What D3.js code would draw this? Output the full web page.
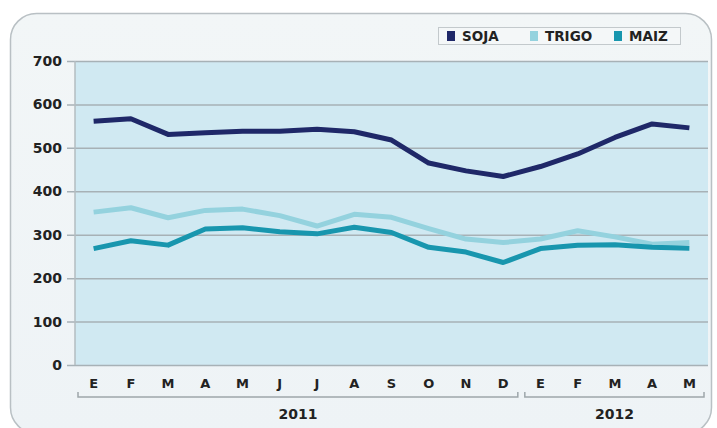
<!DOCTYPE html>
<html>
<head>
<meta charset="utf-8">
<script src="https://cdn.jsdelivr.net/npm/d3@7"></script>
<style>
  html, body { margin: 0; padding: 0; background: #fff; }
  text { font-family: "DejaVu Sans", Verdana, sans-serif; font-weight: bold; fill: #222; }
</style>
</head>
<body>
<div id="chart"></div>
<script>
var months = ["E", "F", "M", "A", "M", "J", "J", "A", "S", "O", "N", "D", "E", "F", "M", "A", "M"];
var years = [{label: "2011", from: 0, to: 11}, {label: "2012", from: 12, to: 16}];
var soja  = [561, 567, 531, 535, 538, 538, 543, 537, 518, 465, 447, 434, 457, 486, 524, 555, 546];
var trigo = [352, 362, 339, 356, 359, 344, 320, 347, 340, 314, 290, 282, 290, 309, 295, 278, 282];
var maiz  = [268, 286, 276, 313, 316, 307, 302, 317, 305, 271, 260, 236, 268, 276, 277, 271, 269];
var yTicks = [0, 100, 200, 300, 400, 500, 600, 700];

var series = [
    {name: "SOJA", values: soja, color: "#1f2868"},
    {name: "TRIGO", values: trigo, color: "#94d2de"},
    {name: "MAIZ", values: maiz, color: "#1896ae"}
];

var width = 717, height = 428;
var plot = {left: 75, right: 708, top: 61, bottom: 365};

var svg = d3.select('#chart')
    .append('svg')
    .attr('width', width)
    .attr('height', height);

var defs = svg.append('defs');
var grad = defs.append('linearGradient')
    .attr('id', 'frameGrad')
    .attr('x1', 0).attr('y1', 0).attr('x2', 0).attr('y2', 1);
grad.append('stop').attr('offset', '0%').attr('stop-color', '#f2f6f7');
grad.append('stop').attr('offset', '100%').attr('stop-color', '#eef3f6');

// outer frame
svg.append('rect')
    .attr('x', 10.5).attr('y', 13.5)
    .attr('width', 701).attr('height', 420)
    .attr('rx', 26).attr('ry', 26)
    .attr('fill', 'url(#frameGrad)')
    .attr('stroke', '#b9c0c4')
    .attr('stroke-width', 1.5);

var x = d3.scaleBand()
    .domain(d3.range(months.length))
    .range([plot.left, plot.right]);

var y = d3.scaleLinear()
    .domain([0, 700])
    .range([plot.bottom, plot.top]);

// plot background
svg.append('rect')
    .attr('x', plot.left).attr('y', plot.top)
    .attr('width', plot.right - plot.left)
    .attr('height', plot.bottom - plot.top)
    .attr('fill', '#d0e9f2');

// gridlines + y labels
var gy = svg.append('g')
    .attr('transform', 'translate(' + (plot.right) + ',0)')
    .call(d3.axisLeft(y).tickValues(yTicks).tickSize(plot.right - plot.left + 8).tickPadding(5));
gy.select('.domain').remove();
gy.selectAll('.tick line')
    .attr('stroke', '#a7b1b6')
    .attr('stroke-width', 1.5);
gy.selectAll('.tick text')
    .attr('font-size', 14)
    .attr('fill', '#1c1c1c');

// left axis line
svg.append('line')
    .attr('x1', plot.left).attr('x2', plot.left)
    .attr('y1', plot.top).attr('y2', plot.bottom)
    .attr('stroke', '#b3bcc0')
    .attr('stroke-width', 1.5);

// month labels
var gx = svg.append('g')
    .attr('transform', 'translate(0,' + plot.bottom + ')')
    .call(d3.axisBottom(x).tickFormat(function (i) { return months[i]; }).tickSize(0).tickPadding(14));
gx.select('.domain').remove();
gx.selectAll('.tick text')
    .attr('font-size', 13)
    .attr('fill', '#1c1c1c');

// year brackets
var bracketY = 397;
years.forEach(function (yr) {
    var x0 = x(yr.from) + 3;
    var x1 = x(yr.to) + x.bandwidth() - 4;
    svg.append('path')
        .attr('d', 'M' + x0 + ',' + (bracketY - 5) + 'L' + x0 + ',' + bracketY + 'L' + x1 + ',' + bracketY + 'L' + x1 + ',' + (bracketY - 5))
        .attr('fill', 'none')
        .attr('stroke', '#9ea7ab')
        .attr('stroke-width', 1.5);
    svg.append('text')
        .attr('x', (x0 + x1) / 2)
        .attr('y', bracketY + 22)
        .attr('text-anchor', 'middle')
        .attr('font-size', 14)
        .text(yr.label);
});

// lines
var line = d3.line()
    .x(function (d, i) { return x(i) + x.bandwidth() / 2; })
    .y(function (d) { return y(d); });

series.forEach(function (s) {
    svg.append('path')
        .datum(s.values)
        .attr('d', line)
        .attr('fill', 'none')
        .attr('stroke', s.color)
        .attr('stroke-width', 5)
        .attr('stroke-linejoin', 'round');
});

// legend
var legend = svg.append('g');
legend.append('rect')
    .attr('x', 438.5).attr('y', 27.5)
    .attr('width', 242).attr('height', 17)
    .attr('fill', '#f4f7f8')
    .attr('stroke', '#c3c9cc');
var legendX = [447, 530, 614];
series.forEach(function (s, i) {
    legend.append('rect')
        .attr('x', legendX[i]).attr('y', 31)
        .attr('width', 8).attr('height', 10)
        .attr('fill', s.color);
    legend.append('text')
        .attr('x', legendX[i] + 15).attr('y', 41)
        .attr('font-size', 13.5)
        .text(s.name);
});
</script>
</body>
</html>
